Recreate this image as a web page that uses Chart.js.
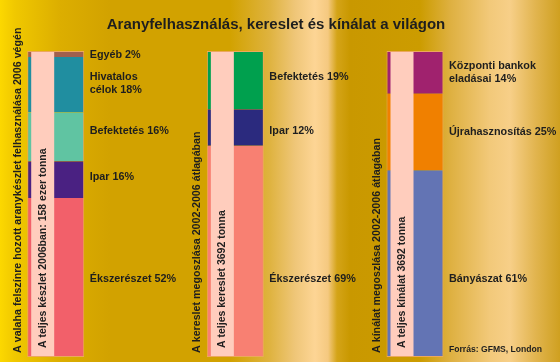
<!DOCTYPE html>
<html lang="hu">
<head>
  <meta charset="UTF-8">
  <title>Aranyfelhasználás, kereslet és kínálat a világon</title>
  <script src="https://cdn.jsdelivr.net/npm/chart.js@4.4.1/dist/chart.umd.min.js"></script>
  <style>
    body { margin: 0; }
    .fundo {
      width: 560px;
      height: 362px;
      position: relative;
      background: linear-gradient(90deg, #fcd800 0px, #f0c800 15px, #dcae00 60px, #d2a200 110px,
        #d2a200 230px, #dfb340 270px, #efc678 295px, #fdd595 315px, #f5c980 328px, #d4a418 337px,
        #c99800 350px, #cc9c00 420px, #deb040 450px, #f2c97a 490px, #f7cf88 510px, #e2b550 535px,
        #cfa020 560px);
    }
  </style>
</head>
<body>
  <div class="fundo">
    <canvas id="grafico"></canvas>
  </div>

<script>
  const title = 'Aranyfelhasználás, kereslet és kínálat a világon';
  const source = 'Forrás: GFMS, London';

  // percent shares, bottom segment first
  const stockLabels = ['Ékszerészet 52%', 'Ipar 16%', 'Befektetés 16%', 'Hivatalos\ncélok 18%', 'Egyéb 2%'];
  const stockValues = [52, 12, 16, 18, 2]; // the Ipar block is drawn ~12% tall in the original
  const demandLabels = ['Ékszerészet 69%', 'Ipar 12%', 'Befektetés 19%'];
  const demandValues = [69, 12, 19];
  const supplyLabels = ['Bányászat 61%', 'Újrahasznosítás 25%', 'Központi bankok\neladásai 14%'];
  const supplyValues = [61, 25, 14];

  const sideTitles = [
    'A valaha felszínre hozott aranykészlet felhasználása 2006 végén',
    'A kereslet megoszlása 2002-2006 átlagában',
    'A kínálat megoszlása 2002-2006 átlagában'
  ];
  const totalTitles = [
    'A teljes készlet 2006ban: 158 ezer tonna',
    'A teljes kereslet 3692 tonna',
    'A teljes kínálat 3692 tonna'
  ];

  // styles
  const stockColors = ['#f2606a', '#4a2182', '#60c4a2', '#208ea0', '#a0604e'];
  const demandColors = ['#f88072', '#2b2a7e', '#00a04e'];
  const supplyColors = ['#6374b4', '#f08000', '#a0226e'];
  const labelNudge = [[1.5, -2.5, -5.7, -1.2, 1], [27.5, 3.5, -3], [15, 0, 0.6]];
  const fontFamily = '"Liberation Sans", Arial, sans-serif';
  const textColor = '#1e1e1e';

  const unit = 179.65;          // px per column step
  const xMin = -55.7 / unit;
  const xMax = xMin + 560 / unit;
  const stripShift = 13 / unit; // pink strip sits left of the column centre

  const columns = [
    { labels: stockLabels, values: stockValues, colors: stockColors },
    { labels: demandLabels, values: demandValues, colors: demandColors },
    { labels: supplyLabels, values: supplyValues, colors: supplyColors }
  ];

  const datasets = [];
  columns.forEach(function (col, c) {
    col.values.forEach(function (v, i) {
      const last = i == col.values.length - 1;
      datasets.push({
        data: [{ x: c, y: v }],
        backgroundColor: col.colors[i],
        borderColor: '#eca85c',
        borderWidth: { left: 1, right: 1, top: last ? 1 : 0, bottom: i == 0 ? 1 : 0 },
        borderSkipped: false,
        grouped: false,
        maxBarThickness: 57,
        order: 1,
        col: c,
        seg: i
      });
    });
  });
  datasets.push({
    xAxisID: 'x2',
    data: columns.map(function (col, c) { return { x: c, y: [0.3, 99.7] }; }),
    backgroundColor: '#ffcdbd',
    grouped: false,
    maxBarThickness: 23,
    order: 0,
    strip: true
  });

  const textPlugin = {
    id: 'texts',
    afterDatasetsDraw(chart) {
      const ctx = chart.ctx;
      const area = chart.chartArea;
      ctx.save();
      ctx.fillStyle = textColor;

      ctx.font = 'bold 15px ' + fontFamily;
      ctx.textAlign = 'center';
      ctx.textBaseline = 'alphabetic';
      ctx.fillText(title, 276, 29);

      // segment labels right of each column
      ctx.font = 'bold 10.8px ' + fontFamily;
      ctx.textAlign = 'left';
      ctx.textBaseline = 'middle';
      chart.data.datasets.forEach(function (ds, d) {
        if (ds.strip) return;
        const bar = chart.getDatasetMeta(d).data[0];
        const lines = columns[ds.col].labels[ds.seg].split('\n');
        const mid = (bar.y + bar.base) / 2 + labelNudge[ds.col][ds.seg];
        lines.forEach(function (line, k) {
          ctx.fillText(line, bar.x + bar.width / 2 + 5.5, mid + (k - (lines.length - 1) / 2) * 13);
        });
      });

      // rotated titles
      const stripMeta = chart.getDatasetMeta(datasets.length - 1);
      let d = 0;
      columns.forEach(function (col, c) {
        const bar = chart.getDatasetMeta(d).data[0];
        d += col.values.length;
        ctx.textBaseline = 'alphabetic';
        ctx.font = 'bold 10.7px ' + fontFamily;
        ctx.save();
        ctx.translate(bar.x - bar.width / 2 - 6.5, area.bottom - 4);
        ctx.rotate(-Math.PI / 2);
        ctx.fillText(sideTitles[c], 0, 0);
        ctx.restore();

        ctx.font = 'bold 10.5px ' + fontFamily;
        ctx.save();
        ctx.translate(stripMeta.data[c].x + 3, area.bottom - 9);
        ctx.rotate(-Math.PI / 2);
        ctx.fillText(totalTitles[c], 0, 0);
        ctx.restore();
      });

      ctx.font = 'bold 8.6px ' + fontFamily;
      ctx.textBaseline = 'middle';
      ctx.fillText(source, 449, 350);
      ctx.restore();
    }
  };

  new Chart(document.getElementById('grafico'), {
    type: 'bar',
    data: { datasets: datasets },
    options: {
      responsive: true,
      maintainAspectRatio: false,
      animation: false,
      layout: { padding: { left: 0, right: 0, top: 51, bottom: 5 } },
      plugins: { legend: { display: false }, tooltip: { enabled: false } },
      scales: {
        x: { type: 'linear', min: xMin, max: xMax, offset: false, display: false },
        x2: { type: 'linear', axis: 'x', min: xMin + stripShift, max: xMax + stripShift, offset: false, display: false },
        y: { min: 0, max: 100, stacked: true, display: false }
      }
    },
    plugins: [textPlugin]
  });
</script>
</body>
</html>
